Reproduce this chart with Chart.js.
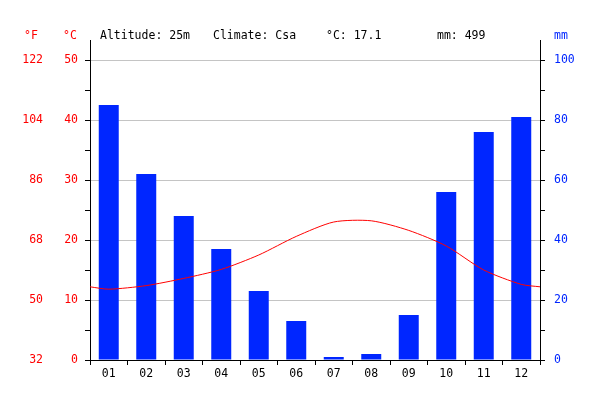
<!DOCTYPE html>
<html>
<head>
<meta charset="utf-8">
<script src="https://cdn.jsdelivr.net/npm/chart.js@4/dist/chart.umd.min.js"></script>
<style>
  html, body { margin: 0; padding: 0; background: #fff; }
  #wrap { width: 600px; height: 400px; }
</style>
</head>
<body>
<div id="wrap"><canvas id="climate"></canvas></div>
<script>
const months = ['01','02','03','04','05','06','07','08','09','10','11','12'];
const rainMm = [85, 62, 48, 37, 23, 13, 1, 2, 15, 56, 76, 81];
const tempC = [11.8, 12.4, 13.6, 15.1, 17.5, 20.6, 23.0, 23.2, 21.6, 19.0, 15.0, 12.6];
const tempEdge = 12.2; // where the curve meets the plot edges
const cTicks = [0, 5, 10, 15, 20, 25, 30, 35, 40, 45, 50];
const mmTicks = [0, 10, 20, 30, 40, 50, 60, 70, 80, 90, 100];
const headerInfo = ['Altitude: 25m', 'Climate: Csa', '°C: 17.1', 'mm: 499'];

const RED = '#ff0000', BLUE = '#0026ff';
const FONT = "'DejaVu Sans Mono', monospace";

// line points sit in the middle of each month slot
const linePts = [{x: 0, y: tempEdge}]
  .concat(tempC.map((t, i) => ({x: i + 0.5, y: t})))
  .concat([{x: 12, y: tempEdge}]);

const header = {
  id: 'header',
  afterDraw(chart) {
    const ctx = chart.ctx;
    ctx.save();
    ctx.font = '11.5px ' + FONT;
    ctx.textBaseline = 'middle';
    ctx.fillStyle = '#000';
    const xs = [100, 213, 326, 437];
    headerInfo.forEach((t, i) => ctx.fillText(t, xs[i], 36));
    ctx.textAlign = 'center';
    ctx.fillStyle = RED;
    ctx.fillText('°F', 31, 36);
    ctx.fillText('°C', 70, 36);
    ctx.fillStyle = BLUE;
    ctx.fillText('mm', 561, 36);
    ctx.restore();
  }
};

const setTicks = list => axis => { axis.ticks = list.map(v => ({value: v})); };

new Chart(document.getElementById('climate'), {
  type: 'bar',
  data: {
    labels: months,
    datasets: [
      {
        type: 'line', data: linePts, xAxisID: 'xl', yAxisID: 'yC',
        borderColor: RED, borderWidth: 1, pointRadius: 0, tension: 0.25, order: 0
      },
      {
        type: 'bar', data: rainMm, xAxisID: 'x', yAxisID: 'yM', grouped: false,
        backgroundColor: BLUE, barPercentage: 0.533, categoryPercentage: 1, order: 1
      }
    ]
  },
  options: {
    responsive: true, maintainAspectRatio: false, animation: false,
    layout: { padding: { top: 40, left: 0, right: 0, bottom: 0 } },
    plugins: { legend: { display: false }, tooltip: { enabled: false } },
    scales: {
      x: {
        type: 'category', offset: true,
        grid: { offset: true, drawOnChartArea: false, tickLength: 5, tickColor: '#000' },
        border: { color: '#000' },
        ticks: { color: '#000', font: { family: FONT, size: 11.5 }, padding: 2, maxRotation: 0 },
        afterFit: s => { s.height = 40; }
      },
      xl: { type: 'linear', min: 0, max: 12, offset: false, grid: { offset: false }, display: false },
      yF: {
        position: 'left', weight: 2, min: 0, max: 160 / 3,
        afterBuildTicks: setTicks(cTicks),
        grid: { display: false, drawTicks: false, tickLength: 0 }, border: { display: false },
        ticks: {
          autoSkip: false, color: RED, padding: 7, font: { family: FONT, size: 11.5 },
          callback: v => v % 10 === 0 ? String(Math.round(v * 9 / 5 + 32)) : ''
        },
        afterFit: s => { s.width = 50; }
      },
      yC: {
        position: 'left', weight: 1, min: 0, max: 160 / 3,
        afterBuildTicks: setTicks(cTicks),
        grid: {
          color: c => c.tick && c.tick.value % 10 === 0 ? '#c4c4c4' : 'rgba(0,0,0,0)',
          tickColor: '#000', tickLength: 5
        },
        border: { color: '#000' },
        ticks: {
          autoSkip: false, color: RED, padding: 7, font: { family: FONT, size: 11.5 },
          callback: v => v % 10 === 0 ? String(v) : ''
        },
        afterFit: s => { s.width = 40; }
      },
      yM: {
        position: 'right', min: 0, max: 320 / 3,
        afterBuildTicks: setTicks(mmTicks),
        grid: { drawOnChartArea: false, tickColor: '#000', tickLength: 5 },
        border: { color: '#000' },
        ticks: {
          autoSkip: false, color: BLUE, padding: 9, font: { family: FONT, size: 11.5 },
          callback: v => v % 20 === 0 ? String(v) : ''
        },
        afterFit: s => { s.width = 60; }
      }
    }
  },
  plugins: [header]
});
</script>
</body>
</html>
